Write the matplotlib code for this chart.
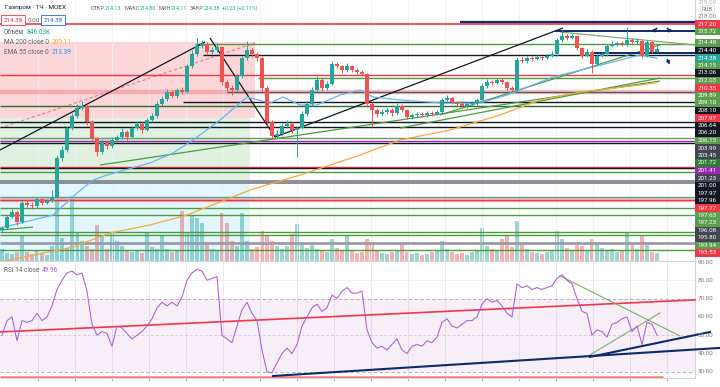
import matplotlib
matplotlib.use('Agg')
import matplotlib.pyplot as plt
from matplotlib.patches import Rectangle
import numpy as np

plt.rcParams['font.family'] = ['Roboto', 'DejaVu Sans']

# ---------------- data (hourly candles, Газпром MOEX) ----------------
opens = [194.30, 194.53, 195.76, 196.31, 195.20, 197.31, 197.09, 196.98, 197.76, 197.31,
         197.53, 197.98, 202.31, 203.20, 205.64, 206.98, 207.87, 208.09, 206.31, 204.53,
         202.98, 204.09, 203.64, 204.31, 204.64, 205.20, 204.64, 205.64, 206.09, 205.42,
         206.53, 206.98, 208.31, 208.87, 209.64, 209.20, 209.87, 209.64, 212.53, 213.87,
         214.76, 214.98, 214.09, 214.31, 214.64, 210.76, 210.09, 209.87, 211.42, 213.42,
         214.31, 213.87, 213.42, 210.09, 206.31, 204.76, 204.98, 205.87, 206.09, 205.42,
         205.64, 207.20, 208.31, 209.87, 210.98, 210.09, 210.53, 212.76, 212.53, 212.09,
         212.53, 212.09, 211.87, 211.64, 208.31, 207.64, 207.20, 207.42, 207.64, 207.31,
         208.09, 207.64, 206.87, 207.09, 207.20, 207.09, 207.31, 207.20, 207.42, 208.76,
         208.98, 208.53, 208.31, 208.09, 208.31, 208.42, 208.76, 210.31, 210.76, 210.64,
         210.98, 210.76, 210.09, 209.87, 213.20, 213.10, 213.42, 213.31, 213.53, 213.42,
         213.64, 213.87, 215.42, 215.87, 215.64, 215.87, 214.53, 213.64, 214.09, 212.76,
         213.64, 213.87, 214.76, 214.98, 215.09, 214.98, 215.42, 215.20, 215.31, 213.64,
         215.20, 214.13]
closes = [194.53, 195.76, 196.31, 195.20, 197.31, 197.09, 196.98, 197.76, 197.31, 197.53,
          197.98, 202.31, 203.20, 205.64, 206.98, 207.87, 208.09, 206.31, 204.53, 202.98,
          204.09, 203.64, 204.31, 204.64, 205.20, 204.64, 205.64, 206.09, 205.42, 206.53,
          206.98, 208.31, 208.87, 209.64, 209.20, 209.87, 209.64, 212.53, 213.87, 214.76,
          214.98, 214.09, 214.31, 214.64, 210.76, 210.09, 209.87, 211.42, 213.42, 214.31,
          213.87, 213.42, 210.09, 206.31, 204.76, 204.98, 205.87, 206.09, 205.42, 205.64,
          207.20, 208.31, 209.87, 210.98, 210.09, 210.53, 212.76, 212.53, 212.09, 212.53,
          212.09, 211.87, 211.64, 208.31, 207.64, 207.20, 207.42, 207.64, 207.31, 208.09,
          207.64, 206.87, 207.09, 207.20, 207.09, 207.31, 207.20, 207.42, 208.76, 208.98,
          208.53, 208.31, 208.09, 208.31, 208.42, 208.76, 210.31, 210.76, 210.64, 210.98,
          210.76, 210.09, 209.87, 213.20, 213.10, 213.42, 213.31, 213.53, 213.42, 213.64,
          213.87, 215.42, 215.87, 215.64, 215.87, 214.53, 213.64, 214.09, 212.76, 213.64,
          213.87, 214.76, 214.98, 215.09, 214.98, 215.42, 215.20, 215.31, 213.64, 215.20,
          214.13, 214.38]
highs = [194.80, 196.00, 196.60, 196.50, 197.60, 197.80, 197.40, 198.00, 197.90, 197.80,
         198.80, 202.60, 203.60, 205.90, 207.30, 208.30, 208.60, 208.30, 206.50, 204.70,
         204.40, 204.30, 204.60, 204.90, 205.60, 205.40, 205.90, 206.40, 206.30, 206.80,
         207.30, 208.60, 209.20, 210.00, 209.90, 210.10, 210.20, 212.80, 214.30, 215.60,
         215.40, 215.20, 214.70, 215.10, 214.80, 211.00, 210.40, 211.70, 213.70, 215.30,
         214.50, 214.10, 213.60, 210.30, 206.50, 205.40, 206.20, 206.50, 206.30, 205.90,
         207.50, 208.60, 210.20, 211.40, 211.20, 210.90, 213.10, 213.00, 212.70, 212.90,
         212.70, 212.30, 212.10, 211.80, 208.50, 207.90, 207.80, 207.90, 207.90, 208.40,
         208.30, 207.80, 207.30, 207.40, 207.40, 207.50, 207.50, 207.70, 209.00, 209.30,
         209.10, 208.70, 208.50, 208.50, 208.70, 209.00, 210.60, 211.10, 211.00, 211.20,
         211.20, 210.90, 210.30, 213.50, 213.50, 213.70, 213.60, 213.80, 213.70, 213.90,
         214.20, 215.70, 216.53, 216.10, 216.10, 216.00, 214.70, 214.40, 214.30, 213.90,
         214.10, 215.00, 215.30, 215.30, 215.30, 216.87, 215.60, 215.60, 215.40, 215.40,
         215.30, 214.80]
lows = [194.10, 194.40, 195.60, 194.90, 195.10, 196.90, 196.70, 196.80, 197.10, 197.20,
        197.40, 197.90, 202.00, 203.00, 205.40, 206.80, 207.60, 206.00, 204.20, 202.50,
        202.80, 203.30, 203.40, 204.10, 204.40, 204.30, 204.50, 205.40, 205.10, 205.30,
        206.30, 206.80, 208.10, 208.70, 209.00, 209.00, 209.40, 209.50, 212.30, 213.70,
        214.50, 213.80, 213.90, 214.10, 210.40, 209.70, 209.30, 209.60, 211.20, 213.20,
        213.50, 213.10, 209.80, 205.90, 204.40, 204.50, 204.80, 205.60, 205.10, 202.40,
        205.50, 207.00, 208.10, 209.70, 209.80, 209.90, 210.40, 212.30, 211.80, 211.90,
        211.90, 211.60, 211.40, 208.00, 205.80, 206.90, 207.00, 207.20, 207.00, 207.10,
        207.40, 206.60, 206.70, 206.90, 206.90, 206.90, 207.00, 207.10, 207.30, 208.60,
        208.30, 208.10, 207.90, 207.90, 208.10, 208.20, 208.60, 210.10, 210.40, 210.50,
        210.50, 209.80, 209.60, 209.70, 212.90, 212.90, 213.10, 213.20, 213.20, 213.30,
        213.50, 213.70, 215.20, 215.40, 215.50, 214.30, 213.40, 213.50, 211.80, 212.60,
        213.50, 213.70, 214.60, 214.80, 214.80, 214.80, 215.00, 215.00, 213.40, 213.50,
        214.00, 214.11]
volumes_k = [1200, 800, 700, 900, 2600, 900, 700, 1000, 800, 600,
             1500, 6100, 2300, 1300, 6500, 2900, 2000, 1500, 1200, 3600,
             2600, 1200, 2800, 2000, 1500, 1000, 900, 1100, 800, 2800,
             1400, 1200, 2500, 1200, 900, 1000, 5000, 2800, 4500, 4300,
             3800, 1800, 1200, 1000, 4800, 3800, 2000, 1500, 4800, 2000,
             1200, 1400, 3000, 2500, 2000, 1500, 1200, 1500, 2700, 3700,
             1800, 1300, 1600, 1200, 1000, 900, 2200, 1300, 1000, 2600,
             1000, 800, 900, 2200, 1800, 1000, 800, 700, 900, 1100,
             1700, 900, 700, 800, 600, 700, 900, 1000, 2000, 1200,
             900, 700, 800, 600, 900, 1100, 3300, 1500, 1200, 1000,
             2200, 2500, 1400, 4000, 1800, 1200, 900, 800, 700, 900,
             1100, 3000, 2200, 1300, 1000, 1800, 1500, 1000, 2200, 1700,
             1300, 1000, 1200, 900, 1000, 2900, 1800, 1200, 2500, 1600,
             900, 846]
rsi14 = [50, 58, 60, 47, 58, 57, 58, 62, 58, 60,
         66, 75, 80, 84, 85, 83, 84, 74, 56, 50,
         52, 51, 44, 55, 54, 51, 48, 50, 52, 55,
         59, 65, 68, 66, 68, 66, 71, 80, 84, 86,
         85, 80, 81, 82, 50, 48, 46, 55, 64, 68,
         62, 58, 42, 30, 29.5, 35, 40, 43, 40, 45,
         55, 60, 65, 67, 63, 65, 72, 70, 74, 76,
         73, 73, 74, 53, 46, 43, 44, 42, 45, 48,
         42, 40, 44, 45, 44, 47, 46, 49, 57, 59,
         55, 54, 56, 58, 58, 60, 67, 70, 68, 69,
         66, 62, 60, 78, 76, 77, 75, 76, 75, 76,
         77, 81, 83, 80, 78, 70, 63, 62, 50, 53,
         52, 49, 56, 57, 59, 60, 52, 55, 45, 57,
         56, 49.96]

# moving averages read at a few bar positions
ema55_x = [-0.4, 10.2, 15, 18.2, 21, 29.6, 34.2, 38.2, 43.6, 49, 53.6, 56.2, 59.6, 63,
           67.6, 71.6, 74.2, 79.6, 88.2, 95.6, 101, 110.2, 118.2, 127.6, 131]
ema55_y = [194.53, 195.98, 198.42, 199.87, 200.42, 201.76, 202.87, 204.31, 206.53, 209.09,
           208.42, 209.09, 208.20, 208.20, 209.31, 209.87, 209.09, 208.76, 208.42, 208.42,
           209.31, 211.31, 212.42, 213.76, 213.39]
ma200_x = [-0.4, 14.2, 21.6, 29.6, 37, 43.6, 49.6, 59.6, 71.6, 79.6, 89.6, 99.6, 107.6,
           115.6, 127.6, 131]
ma200_y = [190.76, 192.42, 193.98, 194.87, 195.98, 197.42, 198.76, 200.42, 202.64, 204.31,
           205.42, 207.09, 208.76, 209.64, 210.42, 210.70]

# horizontal levels: price, colour, width, first bar
levels = [(217.20, '#f23645', 1.2, -0.4), (214.98, '#4e9a3f', 1.0, 38.6),
          (213.76, '#131722', 1.0, 40.2), (211.53, '#f23645', 1.0, -0.4),
          (211.20, '#4e9a3f', 1.0, 51.2), (209.64, '#555a66', 1.0, 45.0),
          (208.53, '#131722', 1.0, 36.2), (208.09, '#2e6b2a', 1.0, -0.4),
          (206.31, '#131722', 1.0, -0.4), (205.76, '#131722', 1.0, -0.4),
          (204.53, '#6a9a5e', 1.0, -0.4), (204.20, '#9c27b0', 1.0, -0.4),
          (203.98, '#131722', 1.0, -0.4), (201.31, '#f23645', 1.0, -0.4),
          (201.20, '#131722', 1.0, -0.4), (200.76, '#4e9a3f', 1.0, -0.4),
          (199.76, '#8a8d96', 1.4, -0.4), (199.53, '#8a8d96', 1.4, -0.4),
          (197.98, '#5f9ea0', 1.0, -0.4), (197.64, '#e53935', 1.0, -0.4),
          (196.76, '#4e9a3f', 1.0, -0.4), (195.98, '#4e9a3f', 1.0, -0.4),
          (194.09, '#4e9a3f', 1.0, -0.4), (193.76, '#4e9a3f', 1.0, -0.4),
          (192.87, '#9a9da6', 2.0, -0.4), (192.09, '#4e9a3f', 1.0, -0.4)]
band_levels = [209.64, 197.64]

# trend lines: (x0, y0, x1, y1, colour, width)
trend_lines = [(-0.4, 203.20, 40.6, 215.20, '#131722', 0.9),
               (41.6, 215.64, 54.6, 204.64, '#131722', 0.9),
               (54.6, 204.64, 112.2, 216.76, '#131722', 0.9),
               (19.6, 201.53, 131.6, 210.87, '#4e9a3f', 0.9),
               (79.6, 205.64, 131.6, 211.20, '#4e9a3f', 0.9),
               (87.6, 207.09, 131.6, 214.87, '#4e9a3f', 0.9),
               (111.6, 216.31, 138.6, 214.87, '#7fae6a', 0.9),
               (-0.4, 194.31, 6.2, 194.64, '#4e9a3f', 0.9),
               (91.6, 217.42, 138.6, 217.42, '#0d2a6b', 1.6),
               (110.6, 216.42, 143.6, 216.42, '#0d2a6b', 1.4),
               (117.6, 213.98, 143.6, 213.98, '#0d2a6b', 1.4)]
rsi_lines = [(-0.4, 51.8, 138.6, 69.3, '#f23645', 1.2),
             (111.6, 82.4, 135.6, 49.6, '#7fae6a', 0.8),
             (117.6, 39.3, 131.6, 62.2, '#7fae6a', 0.8),
             (54.2, 27.8, 143.6, 43.1, '#0d2a6b', 1.5),
             (117.6, 38.2, 141.6, 51.8, '#0d2a6b', 1.5)]

axis_labels = [(217.20, '#f23645'), (215.72, '#5b9e4d'), (214.48, '#5b9e4d'),
               (214.40, '#131722'), (214.38, '#26a69a'), (214.15, '#5b9e4d'),
               (213.06, '#131722'), (212.03, '#5b9e4d'), (210.35, '#f23645'),
               (209.89, '#5b9e4d'), (209.10, '#5b9e4d'), (208.10, '#131722'),
               (207.97, '#f23645'), (206.64, '#131722'), (206.20, '#131722'),
               (206.15, '#5b9e4d'), (203.99, '#434651'), (203.45, '#434651'),
               (201.72, '#2e7d32'), (201.41, '#9c27b0'), (201.23, '#434651'),
               (201.00, '#131722'), (197.97, '#131722'), (197.96, '#131722'),
               (197.77, '#f23645'), (197.63, '#5b9e4d'), (197.23, '#5b9e4d'),
               (196.08, '#434651'), (195.80, '#434651'), (193.94, '#5b9e4d'),
               (193.53, '#f23645')]
rsi_ticks = [90, 80, 70, 60, 50, 40, 30]

# ---------------- figure ----------------
W, H = 720, 387
UP, DN = '#26a69a', '#ef5350'
fig = plt.figure(figsize=(7.2, 3.87), dpi=100)
ax = fig.add_axes([0, 1 - 261 / H, 695 / W, 261 / H])
rax = fig.add_axes([0, 1 - 378 / H, 695 / W, 117 / H], sharex=ax)
XMIN, XMAX = -0.4, 138.6

o = np.array(opens); c = np.array(closes)
idx = np.arange(len(c))
cols = np.where(c >= o, UP, DN)

vax = ax.twinx()
vax.bar(idx, volumes_k, 0.7, color=cols, alpha=0.45, linewidth=0)
vax.set_ylim(0, 26100)
vax.axis('off')
ax.set_zorder(vax.get_zorder() + 1)
ax.patch.set_visible(False)

ax.set_xlim(XMIN, XMAX)
ax.set_ylim(190.87, 219.87)

# left-side position boxes
ax.add_patch(Rectangle((XMIN, 206.76), 51.0, 8.44, facecolor='#f23645', alpha=0.2, lw=0, zorder=0))
ax.add_patch(Rectangle((XMIN, 199.87), 50.0, 6.89, facecolor='#4caf50', alpha=0.17, lw=0, zorder=0))
ax.add_patch(Rectangle((XMIN, 190.87), 50.0, 9.0, facecolor='#29b6f6', alpha=0.13, lw=0, zorder=0))
ax.plot([XMIN, 50.6], [205.64, 215.09], color='#f23645', lw=0.8, ls=(0, (3, 2)), alpha=0.6, zorder=1)

# grid
grid_x = [(px - 2) / 5 for px in range(38, 695, 37)]
for gx in grid_x:
    ax.axvline(gx, color='#eef0f5', lw=0.6, zorder=0)
    rax.axvline(gx, color='#e6e8ee', lw=0.6, zorder=0)

for p in band_levels:
    ax.hlines(p, XMIN, XMAX, color='#f28b8b', lw=3.2, alpha=0.55, zorder=1)
for p, col, lw, x0 in levels:
    ax.hlines(p, x0, XMAX, color=col, lw=lw, zorder=2)
for x0, y0, x1, y1, col, lw in trend_lines:
    ax.plot([x0, x1], [y0, y1], color=col, lw=lw, zorder=3, clip_on=False, solid_capstyle='butt')

ax.plot(ma200_x, ma200_y, color='#f7a93b', lw=0.9, zorder=3)
ax.plot(ema55_x, ema55_y, color='#64b5f6', lw=0.9, zorder=3)

# candles
ax.vlines(idx, lows, highs, colors=cols, lw=0.7, zorder=4)
ax.bar(idx, np.maximum(np.abs(c - o), 0.05), 0.66, bottom=np.minimum(o, c), color=cols,
       linewidth=0, zorder=5)

# arrows on the right
for (x0, y0, x1, y1) in [(655, 357, 659, 361), (669, 357, 665, 361), (666, 330, 671, 320)]:
    ax.annotate('', xy=(x1, y1), xytext=(x0, y0), xycoords='figure pixels',
                textcoords='figure pixels',
                arrowprops=dict(arrowstyle='-|>', color='#0d2a6b', lw=0.9, mutation_scale=5))

for a in (ax, rax):
    a.set_yticks([])
    a.tick_params(length=0, labelbottom=False)
    for s in ('left', 'top'):
        a.spines[s].set_visible(False)
    a.spines['right'].set_color('#d1d4dc')
    a.spines['right'].set_linewidth(0.8)
ax.spines['bottom'].set_color('#d1d4dc')
ax.set_xticks([])
rax.spines['bottom'].set_color('#d1d4dc')

# RSI panel
rax.set_ylim(26.7, 90.5)
rax.axhspan(30, 70, color='#9c27b0', alpha=0.08, lw=0, zorder=0)
for lv in (80, 60, 40):
    rax.axhline(lv, color='#eceef3', lw=0.6, zorder=0)
for lv in (70, 30):
    rax.axhline(lv, color='#a8a3b8', lw=0.6, ls=(0, (4, 3)), zorder=1)
rax.axhline(50, color='#c7c3d3', lw=0.5, ls=(0, (4, 3)), zorder=1)
rax.hlines(27.3, XMIN, 132.2, color='#f77b7b', lw=1.8, zorder=2)
for x0, y0, x1, y1, col, lw in rsi_lines:
    rax.plot([x0, x1], [y0, y1], color=col, lw=lw, zorder=3, clip_on=False)
rax.plot(idx, rsi14, color='#ab5fd0', lw=0.75, zorder=4)
rax.set_xticks(grid_x)
rax.tick_params(axis='x', length=2, color='#b2b5be', direction='out')


def fx(px):
    return px / W


def fy(py):
    return 1 - py / H


# right price-scale labels (stacked like in TradingView)
for k, (val, col) in enumerate(axis_labels):
    yc = 24 + 7.5 * k + (4 if k >= 2 else 0)
    fig.add_artist(Rectangle((fx(695), fy(yc + 3.6)), fx(25), 7.2 / H, transform=fig.transFigure,
                             facecolor=col, edgecolor='none', zorder=10))
    fig.text(fx(707.5), fy(yc), f'{val:.2f}', color='white', fontsize=4.5, ha='center',
             va='center', zorder=11)
fig.text(fx(707.5), fy(17), '218.00', color='#787b86', fontsize=4.5, ha='center', va='center')
fig.text(fx(707.5), fy(3), '219.00', color='#b2b5be', fontsize=4.5, ha='center', va='center')
fig.text(fx(707.5), fy(9.5), 'RUB', color='#787b86', fontsize=4.2, ha='center', va='center',
         bbox=dict(boxstyle='round,pad=0.2', fc='white', ec='#d1d4dc', lw=0.5))

for v in rsi_ticks:
    fig.text(fx(698), fy(262 + (90 - v) * 1.833), f'{v:.2f}', color='#787b86', fontsize=4.5,
             va='center', ha='left')

# header / legend texts, laid out piece after piece
fig.canvas.draw()
renderer = fig.canvas.get_renderer()
TXT, GRAY = '#131722', '#5d606b'


def row(px, py, parts, fs=4.7):
    x = px
    for s, col, gap in parts:
        t = fig.text(fx(x), fy(py), s, color=col, fontsize=fs, va='center')
        x += t.get_window_extent(renderer=renderer).width + gap
    return x


row(5, 8, [('Газпром · 1Ч · MOEX', TXT, 0)], fs=4.6)
row(91, 8, [('ОТКР', GRAY, 0.3), ('214.13', UP, 2.5), ('МАКС', GRAY, 0.3), ('214.80', UP, 2.5),
            ('МИН', GRAY, 0.3), ('214.11', UP, 2.5), ('ЗАКР', GRAY, 0.3), ('214.38', UP, 2),
            ('+0.23 (+0.11%)', UP, 0)], fs=3.9)
fig.text(fx(13), fy(20), '214.38', color='#f23645', fontsize=4.5, va='center', ha='center',
         bbox=dict(boxstyle='square,pad=0.35', fc='white', ec='#f23645', lw=0.6))
fig.text(fx(33.5), fy(20), '0.00', color=GRAY, fontsize=4.5, va='center', ha='center')
fig.text(fx(53), fy(20), '214.38', color='#2962ff', fontsize=4.5, va='center', ha='center',
         bbox=dict(boxstyle='square,pad=0.35', fc='white', ec='#2962ff', lw=0.6))
row(4, 32, [('Объём', GRAY, 2), ('846.03K', UP, 0)])
row(4, 42, [('MA 200 close 0', GRAY, 2.5), ('209.11', '#f7a93b', 0)])
row(4, 52, [('EMA 55 close 0', GRAY, 2.5), ('213.39', '#2196f3', 0)])
row(4, 270, [('RSI 14 close', GRAY, 2.5), ('49.96', '#ab5fd0', 0)])

fig.savefig('out.png', dpi=100, facecolor='white')
